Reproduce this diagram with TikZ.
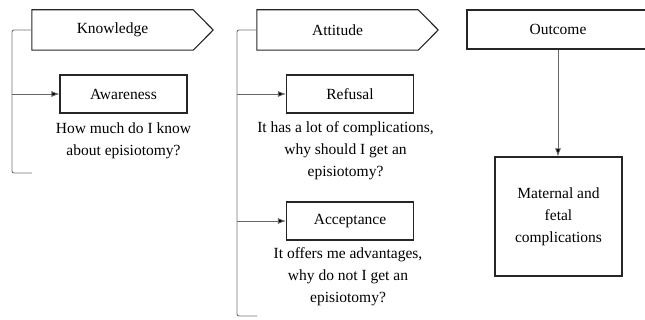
\documentclass[tikz,border=0pt]{standalone}
\usepackage{fontspec}
\setmainfont{Liberation Serif}
\usetikzlibrary{arrows.meta}

\tikzset{
  headtext/.style={rectangle, minimum width=161pt, minimum height=40pt, inner sep=0pt},
  headline/.style={draw=black!85, line width=1.1pt},
  itembox/.style={rectangle, draw=black!85, line width=1.1pt, minimum width=127pt, minimum height=38pt, inner sep=0pt},
  note/.style={align=center, inner sep=0pt},
  bracket/.style={draw=black!55, line width=0.9pt, rounded corners=2pt},
  arr/.style={draw=black!60, line width=0.8pt, -{Latex[length=8pt,width=6pt,fill=black]}}
}

\begin{document}
\begin{tikzpicture}[x=1pt, y=-1pt, font=\fontsize{15.5}{22}\selectfont]
  \useasboundingbox (0,0) rectangle (645,320);
  % Heads
  \node (K) [headtext] at (112.5, 30) {Knowledge};
  \node (T) [headtext] at (337.5, 30) {Attitude};
  \node (O) [rectangle, draw=black!85, line width=1.1pt, minimum width=182pt, minimum height=39pt] at (558, 29.5) {Outcome};
  \draw[headline] (K.north west) -- (K.north east) -- ([xshift=20pt]K.east) -- (K.south east) -- (K.south west) -- cycle;
  \draw[headline] (T.north west) -- (T.north east) -- ([xshift=20pt]T.east) -- (T.south east) -- (T.south west) -- cycle;
  % Boxes
  \node (A) [itembox] at (123.5, 94) {Awareness};
  \node (R) [itembox] at (350, 94) {Refusal};
  \node (C) [itembox] at (350, 221) {Acceptance};
  \node (M) [itembox, minimum height=119pt, align=center] at (558.5, 216.5) {Maternal and\\fetal\\complications};
  % Notes
  \node (An) [note] at (123.5, 141) {How much do I know\\about episiotomy?};
  \node (Rn) [note] at (345.5, 151) {It has a lot of complications,\\why should I get an\\episiotomy?};
  \node (Cn) [note] at (348, 277) {It offers me advantages,\\why do not I get an\\episiotomy?};
  % Brackets
  \coordinate (kbar) at (12, 0);
  \coordinate (kend) at (32, 173);
  \coordinate (tbar) at (237, 0);
  \coordinate (tend) at (257, 316);
  \draw[bracket] (K.west) -| (kbar |- kend) -- (kend);
  \draw[bracket] (T.west) -| (tbar |- tend) -- (tend);
  % Arrows
  \draw[arr] (kbar |- A.west) -- (A.west);
  \draw[arr] (tbar |- R.west) -- (R.west);
  \draw[arr] (tbar |- C.west) -- (C.west);
  \draw[arr] (O.south) -- (O.south |- M.north);
\end{tikzpicture}
\end{document}
